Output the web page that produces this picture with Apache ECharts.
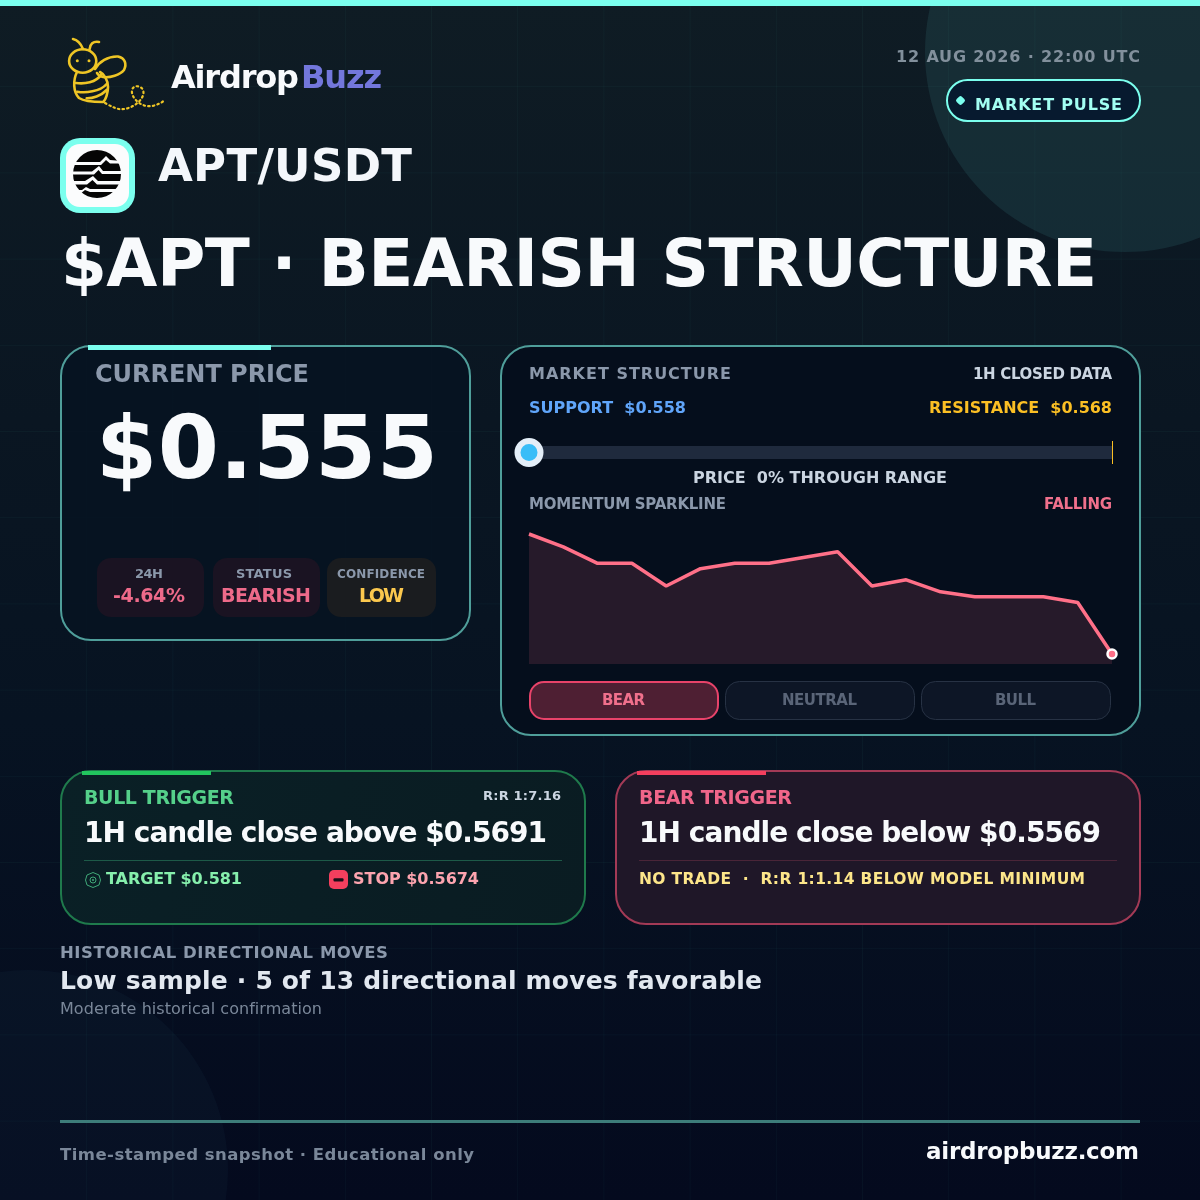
<!DOCTYPE html>
<html><head><meta charset="utf-8">
<style>html,body{margin:0;padding:0;background:#050b1e}#c{width:1200px;height:1200px}</style>
<script src="https://cdn.jsdelivr.net/npm/echarts@6/dist/echarts.min.js"></script>
</head><body><div id="c"></div>
<script>
const sparkLabels = ['-17h','-16h','-15h','-14h','-13h','-12h','-11h','-10h','-9h','-8h','-7h','-6h','-5h','-4h','-3h','-2h','-1h','0h'];
const sparkValues = [0.5820,0.5791,0.5754,0.5754,0.5703,0.5742,0.5754,0.5754,0.5767,0.5780,0.5703,0.5717,0.5690,0.5679,0.5679,0.5679,0.5666,0.5550];
const rangePercent = [0];
const rangeEnds = [0,100];
const FONT='"DejaVu Sans"';
const cv=document.createElement('canvas').getContext('2d');
const G=[];
const LS={};
const rawFill=CanvasRenderingContext2D.prototype.fillText;
CanvasRenderingContext2D.prototype.fillText=function(t,x,y,m){
  const s=LS[t];
  if(s){this.letterSpacing=s+'px';}
  if(m===undefined)rawFill.call(this,t,x,y);else rawFill.call(this,t,x,y,m);
  if(s){this.letterSpacing='0px';}
};
function T(text,x,base,size,color,w,opt){
  opt=opt||{};
  const weight=opt.weight||'bold';
  cv.font=weight+' '+size+'px '+FONT;
  const nat=cv.measureText(text).width;
  if(w)LS[text]=(w-nat)/(text.length-1);
  G.push({type:'text',x:x,y:base-0.283*size,silent:true,style:{x:0,y:0,text:text,fill:color,font:weight+' '+size+'px '+FONT,textAlign:'left',textVerticalAlign:'middle'}});
}
function R(x,y,w,h,r,fill,stroke,lw){G.push({type:'rect',silent:true,shape:{x,y,width:w,height:h,r},style:{fill:fill||'transparent',stroke:stroke||null,lineWidth:lw||0}});}
let pathId=0;
function P(d,stroke,lw,fill,dash){
  const name='deco'+(pathId++);
  echarts.graphic.registerShape(name,echarts.graphic.extendPath(d,{}));
  G.push({type:name,silent:true,shape:{},style:{fill:fill||'transparent',stroke:stroke||null,lineWidth:lw||0,lineDash:dash||null,lineCap:'round',lineJoin:'round'}});
}
function C(cx,cy,r,fill,stroke,lw){G.push({type:'circle',silent:true,shape:{cx,cy,r},style:{fill:fill||'transparent',stroke:stroke||null,lineWidth:lw||0}});}
function L(x1,y1,x2,y2,c,w){G.push({type:'line',silent:true,shape:{x1,y1,x2,y2},style:{stroke:c,lineWidth:w}});}

// background
R(0,0,1200,1200,0,{type:'linear',x:0,y:0,x2:0,y2:1,colorStops:[{offset:0,color:'#0f1c24'},{offset:.35,color:'#0a1622'},{offset:.6,color:'#071322'},{offset:1,color:'#040a1e'}]});
for(let i=1;i<14;i++){L(i*86.2+.5,0,i*86.2+.5,1200,'rgba(120,255,240,0.035)',1);L(0,i*86.2+.5,1200,i*86.2+.5,'rgba(120,255,240,0.035)',1);}
C(1125,52,200,'rgba(90,190,190,0.115)');
C(28,1170,200,'rgba(110,200,220,0.035)');
R(0,0,1200,6,0,'#7bffee');

// bee logo
const Y='#eec525';
G.push({type:'ellipse',silent:true,shape:{cx:82.7,cy:61,rx:13.6,ry:11.8},style:{fill:'transparent',stroke:Y,lineWidth:2.6}});
P('M73 39 C78 40 81 44 83 49',Y,2.6);
P('M89.5 49.5 C90 44 93 41 99 42',Y,2.6);
C(77.3,60.7,1.5,Y);C(89,60.7,1.5,Y);
P('M95 69 C99 62 108 56 118 56.5 C125 58 127 64 124 70 C120 75 110 78 103 77 C100 76.5 98 75 97 73',Y,2.6);
P('M77 72 C73 80 73 92 79 98 C85 102 95 102 103 102 C106 100 108 92 108 87 C108 80 104 74 100 72',Y,2.6);
P('M76 83 C84 84 96 83 101.7 74',Y,2.6);
P('M77.3 91.7 C85 93 100 92 106.7 84',Y,2.6);
P('M86.7 98.3 C92 98.5 101 96 106.7 90',Y,2.6);
P('M105 103 C112 107 118 110 124 109 C134 108 146 98 143 90 C141 85 133 85 132 90 C131 97 138 104 146 106 C153 107 160 104 165 100',Y,2.2,null,[1.5,3.2]);
T('Airdrop',171,89,32,'#f8fafc',128);
T('Buzz',301,89,32,'#7377dc',81);

// apt icon
R(60,138,75,75,20,'#7bffee');
R(66,144,63,63,14,'#fbfcfd');
C(97,174,24,'#050505');
const W='#fbfcfd';
P('M72 162 L100 162 L106 156 L110 160 L122 161 L122 163.5 L110 163.5 L106 160 L101 165 L72 165 Z',null,0,W);
P('M72 171.5 L92 171.5 L99 166 L103 171 L122 171 L122 174 L102 174 L98.5 170 L94 174.5 L72 174.5 Z',null,0,W);
P('M72 181 L85 181 L93 176 L98 181 L122 181 L122 184.5 L97 184.5 L92.5 180 L87 184.5 L72 184.5 Z',null,0,W);
P('M78 190 L82 190 L86 187 L90 189 L118 189 L118 192 L90 192 L85 190 L80 194 L76 192 Z',null,0,W);

T('APT/USDT',158,182,45,'#f4f7fb',254);
T('$APT · BEARISH STRUCTURE',61,288,66,'#f8fafc',1036);
T('12 AUG 2026 · 22:00 UTC',896,62,16,'#82909c',244);
R(947,80,193,41,20.5,'#071a2f','#7bffee',2);
G.push({type:'rect',silent:true,x:960.5,y:100.5,rotation:Math.PI/4,shape:{x:-3.7,y:-3.7,width:7.4,height:7.4,r:2},style:{fill:'#7bffee'}});
T('MARKET PULSE',975,110,16,'#a3fff2',147);

// price card
R(61,346,409,294,30,'rgba(7,20,34,0.92)','#4f9e9a',2);
R(88,345,183,5,0,'#7bffee');
T('CURRENT PRICE',95,383,24,'#8b98ab',214);
T('$0.555',96,480,88,'#f8fafc',342);
R(97,558,107,59,14,'#1a1322');
R(213,558,107,59,14,'#1a1322');
R(327,558,109,59,14,'#1a1c1f');
T('24H',135,578,13,'#8b98ab',28);
T('STATUS',236,578,13,'#8b98ab',56);
T('CONFIDENCE',337,578,12,'#8b98ab',88);
T('-4.64%',113,602,19,'#ee6a8a',72);
T('BEARISH',221,602,19,'#ee6a8a',90);
T('LOW',359,602,19,'#fbc84e',45);

// structure card
R(501,346,639,389,30,'rgba(5,14,28,0.94)','#4f9e9a',2);
T('MARKET STRUCTURE',529,379,16,'#8b98ab',202);
T('1H CLOSED DATA',973,379,15,'#cbd5e1',139);
T('SUPPORT  $0.558',529,413,16,'#60a5fa',157);
T('RESISTANCE  $0.568',929,413,16,'#fbbf24',183);
T('PRICE  0% THROUGH RANGE',693,483,16,'#cbd5e1',254);
T('MOMENTUM SPARKLINE',529,509,15,'#8b98ab',197);
T('FALLING',1044,509,15,'#f0708c',68);
R(530,682,188,37,14,'#4e1f33','#e8436a',2);
R(725.5,681.5,189,38,14,'#0d1626','#273244',1);
R(921.5,681.5,189,38,14,'#0d1626','#273244',1);
T('BEAR',602,705,15,'#f0708c',43);
T('NEUTRAL',782,705,15,'#5a6578',75);
T('BULL',995,705,15,'#5a6578',41);

// bull card
R(61,771,524,153,30,{type:'linear',x:0,y:0,x2:1,y2:1,colorStops:[{offset:0,color:'#0a2026'},{offset:1,color:'#0a1c22'}]},'#1f7a4c',2);
R(82,771,129,4,0,'#22c55e');
T('BULL TRIGGER',84,804,19,'#55d08a',150);
T('R:R 1:7.16',483,800,13,'#cbd5e1',78);
T('1H candle close above $0.5691',84,843,28,'#f8fafc',463);
L(84,860.5,562,860.5,'#1d5a48',1);
G.push({type:'polygon',silent:true,shape:{points:[[93,872.5],[99,875],[100.5,880],[99,885],[93,887.5],[87,885],[85.5,880],[87,875]]},style:{fill:'transparent',stroke:'#3fa878',lineWidth:1}});
C(93,880,3,null,'#3fa878',1);C(93,880,1,'#3fa878');
T('TARGET $0.581',106,884,16,'#86efac',136);
R(329,870,19,19,5,'#f43f5e');
R(333.5,878.2,10,3.4,1,'#1a0f18');
T('STOP $0.5674',353,884,16,'#fda4af',126);

// bear card
R(616,771,524,153,30,'#1f1728','#a33a56',2);
R(637,771,129,4,0,'#f43f5e');
T('BEAR TRIGGER',639,804,19,'#f0668a',153);
T('1H candle close below $0.5569',639,843,28,'#f8fafc',462);
L(639,860.5,1117,860.5,'#4a2538',1);
T('NO TRADE  ·  R:R 1:1.14 BELOW MODEL MINIMUM',639,884,15.5,'#fde68a',446);

// history + footer
T('HISTORICAL DIRECTIONAL MOVES',60,958,16.5,'#8b98ab',328);
T('Low sample · 5 of 13 directional moves favorable',60,990,25,'#e2e8f0',702);
T('Moderate historical confirmation',60,1014,16,'#7a8799',262,{weight:'normal'});
R(60,1120,1080,3,0,'#3d7d7a');
T('Time-stamped snapshot · Educational only',60,1160,16.5,'#7a8799',414);
T('airdropbuzz.com',926,1160,23,'#f8fafc',213);

const chart=echarts.init(document.getElementById('c'),null,{width:1200,height:1200,renderer:'canvas'});
chart.setOption({
  animation:false,
  backgroundColor:'transparent',
  graphic:{elements:G},
  grid:[
    {left:529,top:534,width:583,height:130},
    {left:529,top:446,width:583,height:13}
  ],
  xAxis:[
    {type:'category',gridIndex:0,data:sparkLabels,boundaryGap:false,show:false},
    {type:'value',gridIndex:1,min:0,max:100,show:false}
  ],
  yAxis:[
    {type:'value',gridIndex:0,min:0.55275,max:0.5820,show:false},
    {type:'value',gridIndex:1,min:0,max:1,show:false}
  ],
  series:[
    {type:'line',xAxisIndex:0,yAxisIndex:0,data:sparkValues,smooth:false,clip:false,
     lineStyle:{color:'#ff7088',width:3.5},
     areaStyle:{color:'#261a2a',opacity:1,origin:'start'},
     showSymbol:true,
     symbol:function(v,p){return p.dataIndex===sparkValues.length-1?'circle':'none';},
     symbolSize:9,
     itemStyle:{color:'#ff7088',borderColor:'#ffffff',borderWidth:2.5,opacity:1}},
    {type:'line',xAxisIndex:1,yAxisIndex:1,data:rangeEnds.map(v=>[v,0.5]),symbol:'none',clip:false,
     lineStyle:{color:'#1f2a3d',width:13,cap:'butt'},z:3},
    {type:'scatter',xAxisIndex:1,yAxisIndex:1,data:[[rangeEnds[1],0.5]],symbol:'rect',symbolSize:[1,23],symbolOffset:[0.5,0],clip:false,
     itemStyle:{color:'#fbbf24',opacity:1},z:4},
    {type:'scatter',xAxisIndex:1,yAxisIndex:1,data:rangePercent.map(v=>[v,0.5]),symbolSize:23,clip:false,
     itemStyle:{color:'#38bdf8',borderColor:'#e4eef8',borderWidth:6,opacity:1},z:5}
  ]
});
</script></body></html>
